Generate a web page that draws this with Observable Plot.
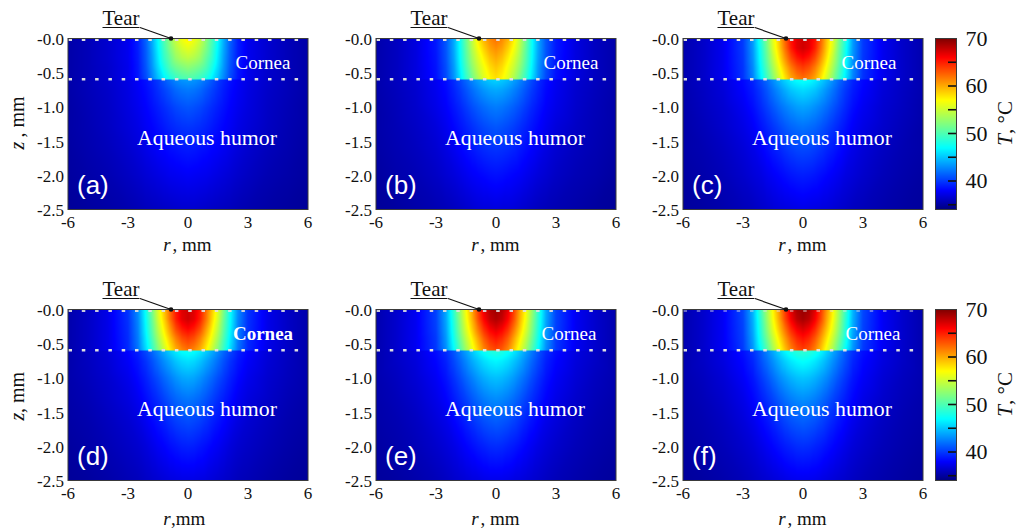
<!DOCTYPE html>
<html>
<head>
<meta charset="utf-8">
<script src="https://cdn.jsdelivr.net/npm/d3@7"></script>
<script src="https://cdn.jsdelivr.net/npm/@observablehq/plot@0.6"></script>
<style>
html,body{margin:0;padding:0;background:#fff}
#chart{position:relative;width:1016px;height:529px;overflow:hidden}
#chart svg{position:absolute}
</style>
</head>
<body>
<div id="chart"></div>
<script>
// radial columns (mm, mirrored about r = 0) and depth rows (mm)
const rValues = [0, 0.3, 0.6, 0.9, 1.2, 1.5, 1.8, 2.1, 2.5, 3, 4, 5, 6];
const zValues = [0, -0.14, -0.28, -0.42, -0.595, -0.6, -0.75, -1, -1.3, -1.6, -2, -2.5];

const tempA = [
 [57.5,56.5,55,52.5,50,47,44,41.5,39,37.5,36.5,35.8,35.3],
 [56,55.3,54,52,49.5,46.7,43.8,41.3,39,37.5,36.5,35.8,35.3],
 [54.5,54,53,51,49,46.3,43.5,41.2,38.9,37.5,36.5,35.8,35.3],
 [52.5,52,51.3,50,48,45.7,43.2,41,38.8,37.4,36.4,35.8,35.3],
 [50,49.7,49,48,46.5,44.7,42.6,40.6,38.7,37.4,36.4,35.8,35.3],
 [43.5,43.3,42.8,42,41,40,39.2,38.5,37.8,37.2,36.4,35.8,35.3],
 [42.3,42.1,41.7,41,40.3,39.6,38.9,38.3,37.7,37.1,36.3,35.8,35.3],
 [41,40.8,40.5,40,39.5,39,38.5,38,37.5,37,36.2,35.7,35.2],
 [39.8,39.7,39.5,39.2,38.8,38.4,38,37.7,37.2,36.8,36.1,35.6,35.2],
 [38.9,38.8,38.6,38.4,38.1,37.9,37.6,37.3,36.9,36.5,35.9,35.5,35.1],
 [37.8,37.7,37.6,37.5,37.3,37.1,36.9,36.7,36.4,36.1,35.6,35.3,35],
 [36.5,36.5,36.4,36.3,36.2,36.1,36,35.9,35.7,35.5,35.2,35,34.8]
];
const tempB = [
 [62,61.2,59.7,57.5,54.5,51,47.3,44,41,38.8,37,36,35.4],
 [61,60.3,58.7,56.7,54,50.7,47.2,44,41,38.8,37,36,35.4],
 [60,59.2,57.6,55.7,53.3,50.3,47,43.8,40.9,38.7,37,36,35.4],
 [59,58.2,56.6,54.8,52.5,49.7,46.6,43.5,40.7,38.6,37,36,35.4],
 [58,57.2,55.7,53.6,51.3,48.8,46,43.2,40.5,38.5,37,36,35.4],
 [45.5,45.2,44.6,43.7,42.7,41.6,40.5,39.5,38.4,37.6,36.6,36,35.4],
 [44,43.8,43.3,42.6,41.8,40.9,40,39.2,38.2,37.5,36.5,35.9,35.4],
 [42.4,42.2,41.8,41.3,40.7,40,39.3,38.7,37.9,37.3,36.4,35.8,35.3],
 [41,40.8,40.5,40.1,39.6,39.1,38.6,38.1,37.5,36.9,36.2,35.7,35.3],
 [39.8,39.7,39.5,39.2,38.8,38.4,38,37.6,37.1,36.6,36,35.6,35.2],
 [38.5,38.4,38.2,38,37.8,37.5,37.2,36.9,36.6,36.2,35.7,35.4,35],
 [37,36.9,36.9,36.8,36.6,36.4,36.2,36,35.8,35.6,35.3,35,34.8]
];
const tempC = [
 [67.5,67,65.5,62.5,59,56,52,48.5,43.5,40,37.5,36.3,35.5],
 [67.5,66.8,65,62,58.6,55.5,51.5,48,43.4,40,37.5,36.3,35.5],
 [66,65.2,63.5,60.8,57.7,54.5,51,47.7,43.2,39.9,37.5,36.3,35.5],
 [64,63.3,61.7,59.3,56.5,53.5,50.3,47.2,42.9,39.8,37.5,36.3,35.5],
 [62,61.3,60,57.7,55,52.2,49.3,46.5,42.6,39.7,37.5,36.3,35.5],
 [47.5,47.2,46.5,45.5,44.3,43,41.7,40.6,39.2,38.2,36.9,36.2,35.5],
 [45.8,45.5,45,44.1,43.1,42.1,41,40,38.9,38,36.8,36.1,35.5],
 [43.8,43.6,43.1,42.5,41.8,41,40.2,39.4,38.4,37.6,36.6,36,35.4],
 [42,41.8,41.5,41,40.4,39.8,39.2,38.6,37.8,37.2,36.4,35.8,35.3],
 [40.6,40.5,40.2,39.8,39.3,38.9,38.4,37.9,37.3,36.8,36.1,35.6,35.3],
 [39,38.9,38.7,38.4,38.1,37.8,37.5,37.1,36.8,36.4,35.8,35.4,35.1],
 [37.3,37.2,37.1,37,36.9,36.7,36.5,36.3,36,35.8,35.4,35.1,34.9]
];
const tempD = [
 [67.5,67,65.3,62.3,59,55.7,51.5,47.5,43,39.8,37.3,36.2,35.4],
 [67.5,66.8,65,62,58.5,55.2,51,47.3,42.8,39.7,37.3,36.2,35.4],
 [66,65.2,63.5,60.6,57.5,54.3,50.5,47,42.6,39.6,37.3,36.2,35.4],
 [64,63.3,61.6,59.1,56.3,53.3,49.8,46.5,42.4,39.5,37.3,36.2,35.4],
 [62,61.2,59.8,57.5,54.8,52,48.8,45.8,42.1,39.4,37.3,36.2,35.4],
 [47.5,47.2,46.5,45.4,44.2,42.9,41.6,40.5,39.1,38.1,36.8,36.1,35.4],
 [46,45.7,45,44,43,41.9,40.8,39.8,38.7,37.8,36.7,36,35.4],
 [44,43.8,43.2,42.4,41.6,40.7,39.9,39.1,38.2,37.4,36.5,35.9,35.4],
 [42.2,42,41.6,41,40.3,39.6,39,38.4,37.6,37,36.3,35.7,35.3],
 [40.8,40.6,40.3,39.8,39.2,38.7,38.2,37.7,37.1,36.6,36,35.5,35.2],
 [39.1,39,38.7,38.4,38,37.7,37.3,36.9,36.5,36.2,35.7,35.3,35],
 [37.2,37.2,37.1,37,36.8,36.6,36.4,36.2,35.9,35.7,35.3,35,34.8]
];
const tempE = [
 [69,68.4,66.7,63.7,60,56.8,53,49,44,40.3,37.6,36.4,35.5],
 [68.5,67.8,66,63.2,59.6,56.4,52.5,48.7,43.9,40.3,37.6,36.4,35.5],
 [67,66.2,64.5,61.8,58.7,55.6,52,48.3,43.7,40.2,37.6,36.4,35.5],
 [65.3,64.5,62.8,60.2,57.4,54.5,51.2,47.8,43.4,40,37.6,36.4,35.5],
 [63.5,62.8,61.2,58.7,56,53.2,50,47,43,39.9,37.6,36.4,35.5],
 [48.5,48.2,47.5,46.4,45.1,43.7,42.3,41,39.5,38.4,37,36.2,35.5],
 [46.8,46.5,45.9,45,44,42.8,41.6,40.5,39.1,38.1,36.9,36.2,35.5],
 [44.8,44.6,44.1,43.4,42.5,41.6,40.6,39.7,38.6,37.7,36.7,36,35.5],
 [43,42.8,42.4,41.8,41.1,40.3,39.6,38.9,38,37.3,36.4,35.8,35.4],
 [41.4,41.2,40.9,40.4,39.8,39.2,38.6,38.1,37.4,36.9,36.1,35.6,35.3],
 [39.5,39.4,39.1,38.8,38.4,38,37.6,37.2,36.8,36.4,35.8,35.4,35.1],
 [37.4,37.4,37.3,37.1,37,36.8,36.6,36.4,36.1,35.8,35.4,35.1,34.9]
];
const tempF = [
 [69.3,68.7,67,64,60.5,57.2,53.4,49.5,44.4,40.5,37.7,36.4,35.5],
 [68.8,68.1,66.3,63.5,60,56.8,53,49.1,44.2,40.4,37.7,36.4,35.5],
 [67.2,66.4,64.7,62,59,56,52.4,48.7,44,40.3,37.7,36.4,35.5],
 [65.5,64.7,63,60.5,57.7,54.8,51.5,48.2,43.7,40.2,37.7,36.4,35.5],
 [63.8,63,61.4,59,56.2,53.4,50.2,47.2,43.3,40,37.7,36.4,35.5],
 [49,48.7,48,46.9,45.5,44,42.6,41.2,39.7,38.5,37,36.2,35.5],
 [47.2,46.9,46.3,45.4,44.3,43.1,41.9,40.8,39.3,38.2,37,36.2,35.5],
 [45,44.8,44.3,43.6,42.8,41.8,40.8,39.9,38.7,37.8,36.7,36,35.5],
 [43.1,42.9,42.5,41.9,41.2,40.4,39.7,39,38.1,37.3,36.4,35.8,35.4],
 [41.5,41.3,41,40.5,39.9,39.3,38.7,38.2,37.5,36.9,36.1,35.6,35.3],
 [39.6,39.5,39.2,38.9,38.5,38.1,37.7,37.3,36.8,36.4,35.8,35.4,35.1],
 [37.5,37.5,37.4,37.2,37,36.8,36.6,36.4,36.1,35.8,35.4,35.1,34.9]
];

const panelLabels = ["(a)", "(b)", "(c)", "(d)", "(e)", "(f)"];
const panelTemps = [tempA, tempB, tempC, tempD, tempE, tempF];
const rTicks = [-6, -3, 0, 3, 6];
const zTicks = [0, -0.5, -1, -1.5, -2, -2.5];
const corneaDepth = -0.595;
const tearR = -0.85;
const jetStops = [34, 38, 47, 52, 57, 66, 70];
const jetColors = ["#00007f", "#0000ff", "#00ffff", "#80ff80", "#ffff00", "#ff0000", "#7f0000"];
const barTicksMinor = [35, 40, 45, 50, 55, 60, 65];
const barTicksLabel = [40, 50, 60, 70];

const serif = "'Liberation Serif','Times New Roman',serif";
const sans = "'Liberation Sans',Arial,sans-serif";
const colorOpts = {type: "linear", domain: jetStops, range: jetColors, clamp: true};
const chart = document.getElementById("chart");

// layout of each panel's svg
const panelLeft = [0, 307.5, 615, 0, 307.5, 615];
const panelTop = [0, 0, 0, 270.5, 270.5, 270.5];
const corneaR = [3.75, 3.75, 3.3, 3.75, 3.65, 3.5];
const corneaBold = [false, false, false, true, false, false];
const xLabelTail = [", mm", ", mm", ", mm", ",mm", ", mm", ", mm"];
const xLabelTailDx = [-15.5, -15.5, -15.5, -17, -15.5, -15.5];
const xLabelDy = [35, 35, 35, 38, 38, 38];
const yLabelTail = [", mm", null, null, ", mm", null, null];
const yLabelDy = [13.5, null, null, 18, null, null];
const topDotOpacity = [1, 1, 1, 0.9, 0.9, 0.45];

function table(grid) {
  const out = [];
  grid.forEach((row, i) => {
    row.forEach((t, j) => {
      out.push({r: rValues[j], z: zValues[i], t});
      if (rValues[j] !== 0) out.push({r: -rValues[j], z: zValues[i], t});
    });
  });
  return out;
}

panelTemps.forEach((grid, k) => {
  const marks = [
    Plot.raster(table(grid), {x: "r", y: "z", fill: "t", interpolate: "barycentric", pixelSize: 1}),
    Plot.ruleY([corneaDepth], {stroke: "#e0e0e0", strokeWidth: 2.5, strokeDasharray: "3.5,9.8", strokeDashoffset: -1}),
    Plot.ruleY([-0.02], {stroke: "#e0e0e0", strokeWidth: 2.5, strokeDasharray: "3.5,9.8", strokeDashoffset: -1, strokeOpacity: topDotOpacity[k]}),
    Plot.frame({stroke: "#3a3a3a", strokeWidth: 1}),
    Plot.axisX(rTicks, {tickSize: 0, tickPadding: 6, fontSize: 17, fontFamily: serif, fill: "#111", label: null, tickFormat: d => String(d)}),
    Plot.axisY(zTicks, {tickSize: 0, tickPadding: 4, fontSize: 17, fontFamily: serif, fill: "#111", label: null, tickFormat: d => d === 0 ? "-0.0" : d.toFixed(1), dy: 1}),
    // axis title: italic variable + plain unit
    Plot.text(["r"], {x: 0, y: -2.5, dy: xLabelDy[k], dx: -21, text: d => d, fontSize: 19, fontFamily: serif, fontStyle: "italic", fill: "#111", textAnchor: "middle"}),
    Plot.text([xLabelTail[k]], {x: 0, y: -2.5, dy: xLabelDy[k], dx: xLabelTailDx[k], text: d => d, fontSize: 19, fontFamily: serif, fill: "#111", textAnchor: "start"}),
    // regions
    Plot.text(["Cornea"], {x: corneaR[k], y: -0.35, text: d => d, fontSize: 19, fontFamily: serif, fontWeight: corneaBold[k] ? "bold" : "normal", fill: "white"}),
    Plot.text(["Aqueous humor"], {x: 0.95, y: -1.45, text: d => d, fontSize: 21.8, fontFamily: serif, fill: "white"}),
    Plot.text([panelLabels[k]], {x: -5.55, y: -2.15, text: d => d, fontSize: 26, fontFamily: sans, fill: "white", textAnchor: "start"}),
    // Tear annotation
    Plot.text(["Tear"], {x: -3.35, y: 0, dy: -20, text: d => d, fontSize: 21, fontFamily: serif, fill: "#111"}),
    Plot.ruleY([0], {x1: -4.25, x2: -2.4, dy: -11, stroke: "#111", strokeWidth: 1}),
    Plot.link([tearR], {x1: -2.4, y1: 0.16, x2: d => d, y2: 0, stroke: "#111", strokeWidth: 1.2}),
    Plot.dot([tearR], {x: d => d, y: 0, r: 2.3, fill: "#111"})
  ];
  if (yLabelTail[k]) {
    marks.push(
      Plot.text(["z"], {frameAnchor: "left", dx: -50, dy: 25.5, text: d => d, rotate: -90, fontSize: 20, fontFamily: serif, fontStyle: "italic", fill: "#111"}),
      Plot.text([yLabelTail[k]], {frameAnchor: "left", dx: -50, dy: yLabelDy[k], text: d => d, rotate: -90, fontSize: 20, fontFamily: serif, fill: "#111", textAnchor: "start"})
    );
  }
  const svg = Plot.plot({
    width: 330, height: 260,
    marginLeft: 67.5, marginRight: 22.5, marginTop: 38, marginBottom: 51,
    x: {domain: [-6, 6], axis: null},
    y: {domain: [-2.5, 0], axis: null},
    color: colorOpts,
    style: {background: "transparent", overflow: "visible"},
    marks
  });
  svg.style.left = panelLeft[k] + "px";
  svg.style.top = panelTop[k] + "px";
  chart.appendChild(svg);
});

// colour bars
[0, 270.5].forEach(top => {
  const svg = Plot.plot({
    width: 86, height: 260,
    marginLeft: 5, marginRight: 60, marginTop: 38, marginBottom: 51,
    x: {domain: [0, 1], axis: null},
    y: {domain: [34, 70], axis: null},
    color: colorOpts,
    style: {background: "transparent", overflow: "visible"},
    marks: [
      Plot.raster({x1: 0, x2: 1, y1: 34, y2: 70, fill: (x, y) => y, pixelSize: 1}),
      Plot.ruleY(barTicksMinor, {y: d => d, x1: 0.62, x2: 1, stroke: "#111", strokeWidth: 1.6}),
      Plot.frame({stroke: "#3a3a3a", strokeWidth: 1}),
      Plot.text(barTicksLabel, {x: 1, y: d => d, dx: 9, text: d => String(d), fontSize: 22, fontFamily: serif, fill: "#111", textAnchor: "start"}),
      Plot.text(["T"], {x: 1, y: 52, dx: 49, dy: 16, text: d => d, rotate: -90, fontSize: 21, fontFamily: serif, fontStyle: "italic", fill: "#111"}),
      Plot.text([", °C"], {x: 1, y: 52, dx: 49, dy: 10, text: d => d, rotate: -90, fontSize: 21, fontFamily: serif, fill: "#111", textAnchor: "start"})
    ]
  });
  svg.style.left = "930px";
  svg.style.top = top + "px";
  chart.appendChild(svg);
});
</script>
</body>
</html>
